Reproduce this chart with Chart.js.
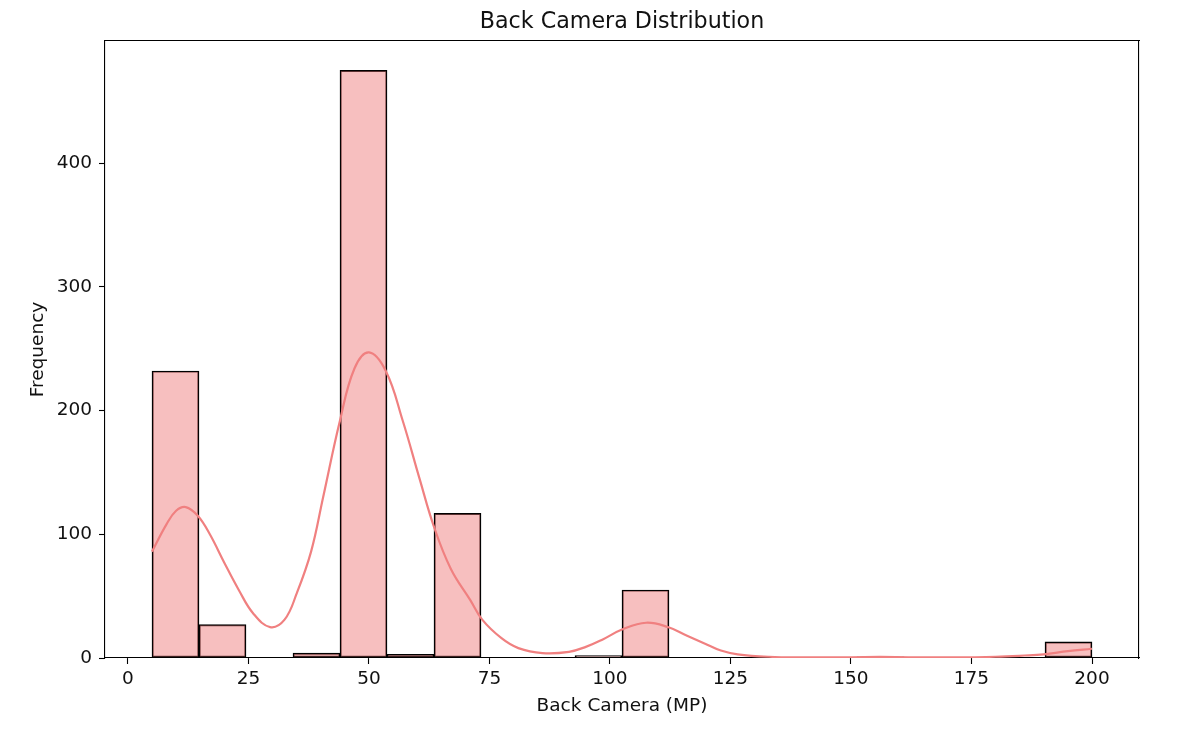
<!DOCTYPE html>
<html>
<head>
<meta charset="utf-8">
<script src="https://cdn.jsdelivr.net/npm/chart.js@4/dist/chart.umd.min.js"></script>
<style>
html,body{margin:0;padding:0;background:#fff;}
#wrap{width:1197px;height:732px;position:relative;}
</style>
</head>
<body>
<div id="wrap"><canvas id="c"></canvas></div>
<script>
// Histogram bins (centres, width 9.75 MP) and counts
const binCenters = [9.875, 19.625, 29.375, 39.125, 48.875, 58.625, 68.375, 78.125, 87.875, 97.625,
                    107.375, 117.125, 126.875, 136.625, 146.375, 156.125, 165.875, 175.625, 185.375, 195.125];
const binCounts  = [232, 27, 0, 4, 475, 3, 117, 0, 0, 2,
                    55, 0, 0, 0, 0, 1, 0, 0, 0, 13];

// KDE curve
const kdeX = [5, 8, 10, 12, 14.5, 17, 20, 23, 26, 29.5, 32.5, 35, 38, 40.5, 44, 47, 50, 53.5, 57, 60.5,
              63.5, 67, 71, 73.5, 77.5, 81, 86, 91.5, 95, 98.5, 102.5, 107.5, 112, 116, 119.5, 123, 126.5,
              133, 140, 150, 156, 162, 170, 180, 186, 190, 195, 200];
const kdeY = [86, 108, 119, 122, 115, 100, 77, 55, 36, 25, 31, 52, 86, 130, 192, 234, 247, 232, 192, 145,
              106, 72, 47, 31, 16, 8, 4, 5, 9, 15, 23, 28.5, 25, 18, 12, 6, 3,
              1, 0.5, 0.6, 0.9, 0.6, 0.5, 1, 2, 3, 5.5, 7.5];

const xTickValues = [0, 25, 50, 75, 100, 125, 150, 175, 200];
const yTickValues = [0, 100, 200, 300, 400];

const titleText = 'Back Camera Distribution';
const xLabel = 'Back Camera (MP)';
const yLabel = 'Frequency';

const FONT = 'DejaVu Sans';
const TXT = '#111';

const barData = binCenters.map((c, i) => ({x: c, y: binCounts[i]}));
const kdeData = kdeX.map((x, i) => ({x: x, y: kdeY[i]}));

new Chart(document.getElementById('c'), {
  type: 'bar',
  data: {
    datasets: [
      {
        type: 'line',
        data: kdeData,
        borderColor: '#F08080',
        borderWidth: 2.2,
        pointRadius: 0,
        tension: 0.4,
        fill: false,
        order: 0
      },
      {
        type: 'bar',
        data: barData,
        backgroundColor: 'rgba(240,128,128,0.5)',
        borderColor: '#000',
        borderWidth: 1.3,
        borderSkipped: false,
        barPercentage: 1.0,
        categoryPercentage: 1.0,
        grouped: false,
        order: 1
      }
    ]
  },
  options: {
    responsive: true,
    maintainAspectRatio: false,
    animation: false,
    devicePixelRatio: 1,
    layout: {padding: 0},
    plugins: {
      legend: {display: false},
      title: {display: false},
      tooltip: {enabled: false}
    },
    scales: {
      x: {
        type: 'linear',
        position: 'bottom',
        offset: false,
        min: -4.75,
        max: 209.75,
        afterFit: s => { s.height = 74; },
        afterBuildTicks: s => { s.ticks = xTickValues.map(v => ({value: v})); },
        ticks: {
          color: TXT,
          font: {family: FONT, size: 18.5},
          padding: 4,
          maxRotation: 0,
          autoSkip: false
        },
        grid: {display: true, offset: false, drawOnChartArea: false, drawTicks: true, tickLength: 6, tickColor: '#000', tickWidth: 1.1},
        border: {display: true, color: '#000', width: 1.1},
        title: {display: true, text: xLabel, color: TXT, font: {family: FONT, size: 18.5}, padding: {top: 0, bottom: 15}}
      },
      x2: {
        type: 'linear',
        position: 'top',
        min: 0, max: 1,
        afterFit: s => { s.height = 41; },
        ticks: {display: false},
        grid: {display: true, drawOnChartArea: false, drawTicks: false},
        border: {display: true, color: '#000', width: 1.1},
        title: {display: true, text: titleText, color: TXT, font: {family: FONT, size: 22.2}, padding: {top: 9, bottom: 0}}
      },
      y: {
        type: 'linear',
        position: 'left',
        min: 0,
        max: 498.75,
        afterFit: s => { s.width = 105; },
        afterBuildTicks: s => { s.ticks = yTickValues.map(v => ({value: v})); },
        ticks: {
          color: TXT,
          font: {family: FONT, size: 18.5},
          padding: 7,
          autoSkip: false
        },
        grid: {display: true, drawOnChartArea: false, drawTicks: true, tickLength: 6, tickColor: '#000', tickWidth: 1.1},
        border: {display: true, color: '#000', width: 1.1},
        title: {display: true, text: yLabel, color: TXT, font: {family: FONT, size: 18.5}, padding: {top: 27, bottom: 0}}
      },
      y2: {
        type: 'linear',
        position: 'right',
        min: 0, max: 1,
        afterFit: s => { s.width = 58; },
        ticks: {display: false},
        grid: {display: true, drawOnChartArea: false, drawTicks: false},
        border: {display: true, color: '#000', width: 1.1}
      }
    }
  }
});
</script>
</body>
</html>
